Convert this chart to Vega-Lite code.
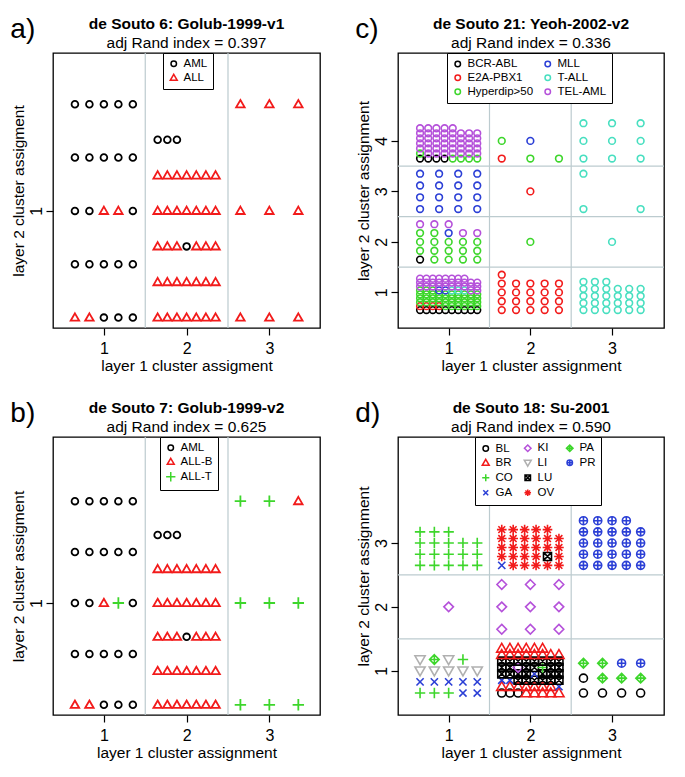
{
"$schema": "https://vega.github.io/schema/vega-lite/v6.json",
"background": "white",
"padding": {"left": 10, "top": 15, "right": 5, "bottom": 5},
"config": {
  "font": "Liberation Sans",
  "view": {"stroke": "black", "strokeWidth": 1.3},
  "axis": {"labelFont": "Liberation Sans", "labelFontSize": 16, "labelColor": "black", "titleFont": "Liberation Sans", "titleFontSize": 15.5, "titleFontWeight": "normal", "titleColor": "black", "tickColor": "black", "tickSize": 7, "tickWidth": 1.2, "domain": false, "grid": false, "labelFlush": false, "labelOverlap": false},
  "axisX": {"labelPadding": 5, "titlePadding": 2},
  "axisY": {"labelAngle": 270, "labelPadding": 2, "titlePadding": 2},
  "legend": {"orient": "none", "strokeColor": "black", "fillColor": "white", "padding": 5, "labelFont": "Liberation Sans", "labelFontSize": 11.5, "labelColor": "black", "symbolSize": 30, "symbolStrokeWidth": 1.5, "rowPadding": 1, "labelOffset": 4, "columnPadding": 8},
  "title": {"font": "Liberation Sans", "fontSize": 15.5, "fontWeight": "bold", "color": "black", "subtitleFont": "Liberation Sans", "subtitleFontSize": 15.5, "subtitleColor": "black", "subtitleFontWeight": "normal", "subtitlePadding": 3, "offset": 1, "anchor": "middle", "frame": "group"}
},
"datasets": {
"golub": [
{"x":0.65,"y":0.6,"a":"ALL","b":"ALL-B"},{"x":0.825,"y":0.6,"a":"ALL","b":"ALL-B"},{"x":1,"y":0.6,"a":"AML","b":"AML"},{"x":1.175,"y":0.6,"a":"AML","b":"AML"},{"x":1.35,"y":0.6,"a":"AML","b":"AML"},
{"x":0.65,"y":0.8,"a":"AML","b":"AML"},{"x":0.825,"y":0.8,"a":"AML","b":"AML"},{"x":1,"y":0.8,"a":"AML","b":"AML"},{"x":1.175,"y":0.8,"a":"AML","b":"AML"},{"x":1.35,"y":0.8,"a":"AML","b":"AML"},
{"x":0.65,"y":1.0,"a":"AML","b":"AML"},{"x":0.825,"y":1.0,"a":"AML","b":"AML"},{"x":1,"y":1.0,"a":"ALL","b":"ALL-B"},{"x":1.175,"y":1.0,"a":"ALL","b":"ALL-T"},{"x":1.35,"y":1.0,"a":"AML","b":"AML"},
{"x":0.65,"y":1.2,"a":"AML","b":"AML"},{"x":0.825,"y":1.2,"a":"AML","b":"AML"},{"x":1,"y":1.2,"a":"AML","b":"AML"},{"x":1.175,"y":1.2,"a":"AML","b":"AML"},{"x":1.35,"y":1.2,"a":"AML","b":"AML"},
{"x":0.65,"y":1.4,"a":"AML","b":"AML"},{"x":0.825,"y":1.4,"a":"AML","b":"AML"},{"x":1,"y":1.4,"a":"AML","b":"AML"},{"x":1.175,"y":1.4,"a":"AML","b":"AML"},{"x":1.35,"y":1.4,"a":"AML","b":"AML"},
{"x":1.65,"y":0.6,"a":"ALL","b":"ALL-B"},{"x":1.767,"y":0.6,"a":"ALL","b":"ALL-B"},{"x":1.883,"y":0.6,"a":"ALL","b":"ALL-B"},{"x":2,"y":0.6,"a":"ALL","b":"ALL-B"},{"x":2.117,"y":0.6,"a":"ALL","b":"ALL-B"},{"x":2.233,"y":0.6,"a":"ALL","b":"ALL-B"},{"x":2.35,"y":0.6,"a":"ALL","b":"ALL-B"},
{"x":1.65,"y":0.733,"a":"ALL","b":"ALL-B"},{"x":1.767,"y":0.733,"a":"ALL","b":"ALL-B"},{"x":1.883,"y":0.733,"a":"ALL","b":"ALL-B"},{"x":2,"y":0.733,"a":"ALL","b":"ALL-B"},{"x":2.117,"y":0.733,"a":"ALL","b":"ALL-B"},{"x":2.233,"y":0.733,"a":"ALL","b":"ALL-B"},{"x":2.35,"y":0.733,"a":"ALL","b":"ALL-B"},
{"x":1.65,"y":0.867,"a":"ALL","b":"ALL-B"},{"x":1.767,"y":0.867,"a":"ALL","b":"ALL-B"},{"x":1.883,"y":0.867,"a":"ALL","b":"ALL-B"},{"x":2,"y":0.867,"a":"AML","b":"AML"},{"x":2.117,"y":0.867,"a":"ALL","b":"ALL-B"},{"x":2.233,"y":0.867,"a":"ALL","b":"ALL-B"},{"x":2.35,"y":0.867,"a":"ALL","b":"ALL-B"},
{"x":1.65,"y":1.0,"a":"ALL","b":"ALL-B"},{"x":1.767,"y":1.0,"a":"ALL","b":"ALL-B"},{"x":1.883,"y":1.0,"a":"ALL","b":"ALL-B"},{"x":2,"y":1.0,"a":"ALL","b":"ALL-B"},{"x":2.117,"y":1.0,"a":"ALL","b":"ALL-B"},{"x":2.233,"y":1.0,"a":"ALL","b":"ALL-B"},{"x":2.35,"y":1.0,"a":"ALL","b":"ALL-B"},
{"x":1.65,"y":1.133,"a":"ALL","b":"ALL-B"},{"x":1.767,"y":1.133,"a":"ALL","b":"ALL-B"},{"x":1.883,"y":1.133,"a":"ALL","b":"ALL-B"},{"x":2,"y":1.133,"a":"ALL","b":"ALL-B"},{"x":2.117,"y":1.133,"a":"ALL","b":"ALL-B"},{"x":2.233,"y":1.133,"a":"ALL","b":"ALL-B"},{"x":2.35,"y":1.133,"a":"ALL","b":"ALL-B"},
{"x":1.65,"y":1.267,"a":"AML","b":"AML"},{"x":1.767,"y":1.267,"a":"AML","b":"AML"},{"x":1.883,"y":1.267,"a":"AML","b":"AML"},
{"x":2.65,"y":0.6,"a":"ALL","b":"ALL-T"},{"x":3,"y":0.6,"a":"ALL","b":"ALL-T"},{"x":3.35,"y":0.6,"a":"ALL","b":"ALL-T"},
{"x":2.65,"y":1.0,"a":"ALL","b":"ALL-T"},{"x":3,"y":1.0,"a":"ALL","b":"ALL-T"},{"x":3.35,"y":1.0,"a":"ALL","b":"ALL-T"},
{"x":2.65,"y":1.4,"a":"ALL","b":"ALL-T"},{"x":3,"y":1.4,"a":"ALL","b":"ALL-T"},{"x":3.35,"y":1.4,"a":"ALL","b":"ALL-B"}
],
"yeoh": [
{"x":0.65,"y":0.65,"g":"BCR-ABL"},{"x":0.728,"y":0.65,"g":"BCR-ABL"},{"x":0.806,"y":0.65,"g":"BCR-ABL"},{"x":0.883,"y":0.65,"g":"BCR-ABL"},{"x":0.961,"y":0.65,"g":"BCR-ABL"},{"x":1.039,"y":0.65,"g":"BCR-ABL"},{"x":1.117,"y":0.65,"g":"BCR-ABL"},{"x":1.194,"y":0.65,"g":"BCR-ABL"},{"x":1.272,"y":0.65,"g":"BCR-ABL"},{"x":1.35,"y":0.65,"g":"BCR-ABL"},
{"x":0.65,"y":0.728,"g":"E2A-PBX1"},{"x":0.728,"y":0.728,"g":"E2A-PBX1"},{"x":0.806,"y":0.728,"g":"E2A-PBX1"},{"x":0.883,"y":0.728,"g":"E2A-PBX1"},{"x":0.961,"y":0.728,"g":"Hyperdip>50"},{"x":1.039,"y":0.728,"g":"Hyperdip>50"},{"x":1.117,"y":0.728,"g":"Hyperdip>50"},{"x":1.194,"y":0.728,"g":"Hyperdip>50"},{"x":1.272,"y":0.728,"g":"Hyperdip>50"},{"x":1.35,"y":0.728,"g":"Hyperdip>50"},
{"x":0.65,"y":0.806,"g":"Hyperdip>50"},{"x":0.728,"y":0.806,"g":"Hyperdip>50"},{"x":0.806,"y":0.806,"g":"Hyperdip>50"},{"x":0.883,"y":0.806,"g":"Hyperdip>50"},{"x":0.961,"y":0.806,"g":"Hyperdip>50"},{"x":1.039,"y":0.806,"g":"Hyperdip>50"},{"x":1.117,"y":0.806,"g":"Hyperdip>50"},{"x":1.194,"y":0.806,"g":"Hyperdip>50"},{"x":1.272,"y":0.806,"g":"Hyperdip>50"},{"x":1.35,"y":0.806,"g":"Hyperdip>50"},
{"x":0.65,"y":0.883,"g":"Hyperdip>50"},{"x":0.728,"y":0.883,"g":"Hyperdip>50"},{"x":0.806,"y":0.883,"g":"Hyperdip>50"},{"x":0.883,"y":0.883,"g":"Hyperdip>50"},{"x":0.961,"y":0.883,"g":"Hyperdip>50"},{"x":1.039,"y":0.883,"g":"Hyperdip>50"},{"x":1.117,"y":0.883,"g":"Hyperdip>50"},{"x":1.194,"y":0.883,"g":"Hyperdip>50"},{"x":1.272,"y":0.883,"g":"Hyperdip>50"},{"x":1.35,"y":0.883,"g":"Hyperdip>50"},
{"x":0.65,"y":0.961,"g":"Hyperdip>50"},{"x":0.728,"y":0.961,"g":"Hyperdip>50"},{"x":0.806,"y":0.961,"g":"Hyperdip>50"},{"x":0.883,"y":0.961,"g":"Hyperdip>50"},{"x":0.961,"y":0.961,"g":"Hyperdip>50"},{"x":1.039,"y":0.961,"g":"Hyperdip>50"},{"x":1.117,"y":0.961,"g":"Hyperdip>50"},{"x":1.194,"y":0.961,"g":"Hyperdip>50"},{"x":1.272,"y":0.961,"g":"Hyperdip>50"},{"x":1.35,"y":0.961,"g":"Hyperdip>50"},
{"x":0.65,"y":1.039,"g":"Hyperdip>50"},{"x":0.728,"y":1.039,"g":"Hyperdip>50"},{"x":0.806,"y":1.039,"g":"Hyperdip>50"},{"x":0.883,"y":1.039,"g":"MLL"},{"x":0.961,"y":1.039,"g":"MLL"},{"x":1.039,"y":1.039,"g":"T-ALL"},{"x":1.117,"y":1.039,"g":"T-ALL"},{"x":1.194,"y":1.039,"g":"T-ALL"},{"x":1.272,"y":1.039,"g":"TEL-AML"},{"x":1.35,"y":1.039,"g":"TEL-AML"},
{"x":0.65,"y":1.117,"g":"TEL-AML"},{"x":0.728,"y":1.117,"g":"TEL-AML"},{"x":0.806,"y":1.117,"g":"TEL-AML"},{"x":0.883,"y":1.117,"g":"TEL-AML"},{"x":0.961,"y":1.117,"g":"TEL-AML"},{"x":1.039,"y":1.117,"g":"TEL-AML"},{"x":1.117,"y":1.117,"g":"TEL-AML"},{"x":1.194,"y":1.117,"g":"TEL-AML"},{"x":1.272,"y":1.117,"g":"TEL-AML"},{"x":1.35,"y":1.117,"g":"TEL-AML"},
{"x":0.65,"y":1.194,"g":"TEL-AML"},{"x":0.728,"y":1.194,"g":"TEL-AML"},{"x":0.806,"y":1.194,"g":"TEL-AML"},{"x":0.883,"y":1.194,"g":"TEL-AML"},{"x":0.961,"y":1.194,"g":"TEL-AML"},{"x":1.039,"y":1.194,"g":"TEL-AML"},{"x":1.117,"y":1.194,"g":"TEL-AML"},{"x":1.194,"y":1.194,"g":"TEL-AML"},{"x":1.272,"y":1.194,"g":"TEL-AML"},{"x":1.35,"y":1.194,"g":"TEL-AML"},
{"x":0.65,"y":1.272,"g":"TEL-AML"},{"x":0.728,"y":1.272,"g":"TEL-AML"},{"x":0.806,"y":1.272,"g":"TEL-AML"},{"x":0.883,"y":1.272,"g":"TEL-AML"},{"x":0.961,"y":1.272,"g":"TEL-AML"},{"x":1.039,"y":1.272,"g":"TEL-AML"},{"x":1.117,"y":1.272,"g":"TEL-AML"},{"x":1.194,"y":1.272,"g":"TEL-AML"},
{"x":0.65,"y":1.65,"g":"BCR-ABL"},{"x":0.825,"y":1.65,"g":"Hyperdip>50"},{"x":1,"y":1.65,"g":"Hyperdip>50"},{"x":1.175,"y":1.65,"g":"Hyperdip>50"},{"x":1.35,"y":1.65,"g":"Hyperdip>50"},
{"x":0.65,"y":1.825,"g":"Hyperdip>50"},{"x":0.825,"y":1.825,"g":"Hyperdip>50"},{"x":1,"y":1.825,"g":"Hyperdip>50"},{"x":1.175,"y":1.825,"g":"Hyperdip>50"},{"x":1.35,"y":1.825,"g":"Hyperdip>50"},
{"x":0.65,"y":2.0,"g":"Hyperdip>50"},{"x":0.825,"y":2.0,"g":"Hyperdip>50"},{"x":1,"y":2.0,"g":"Hyperdip>50"},{"x":1.175,"y":2.0,"g":"Hyperdip>50"},{"x":1.35,"y":2.0,"g":"Hyperdip>50"},
{"x":0.65,"y":2.175,"g":"Hyperdip>50"},{"x":0.825,"y":2.175,"g":"Hyperdip>50"},{"x":1,"y":2.175,"g":"MLL"},{"x":1.175,"y":2.175,"g":"TEL-AML"},{"x":1.35,"y":2.175,"g":"TEL-AML"},
{"x":0.65,"y":2.35,"g":"TEL-AML"},{"x":0.825,"y":2.35,"g":"TEL-AML"},{"x":1,"y":2.35,"g":"TEL-AML"},
{"x":0.65,"y":2.65,"g":"MLL"},{"x":0.883,"y":2.65,"g":"MLL"},{"x":1.117,"y":2.65,"g":"MLL"},{"x":1.35,"y":2.65,"g":"MLL"},
{"x":0.65,"y":2.883,"g":"MLL"},{"x":0.883,"y":2.883,"g":"MLL"},{"x":1.117,"y":2.883,"g":"MLL"},{"x":1.35,"y":2.883,"g":"MLL"},
{"x":0.65,"y":3.117,"g":"MLL"},{"x":0.883,"y":3.117,"g":"MLL"},{"x":1.117,"y":3.117,"g":"MLL"},{"x":1.35,"y":3.117,"g":"MLL"},
{"x":0.65,"y":3.35,"g":"MLL"},{"x":0.883,"y":3.35,"g":"MLL"},{"x":1.117,"y":3.35,"g":"MLL"},{"x":1.35,"y":3.35,"g":"MLL"},
{"x":0.65,"y":3.65,"g":"BCR-ABL"},{"x":0.75,"y":3.65,"g":"BCR-ABL"},{"x":0.85,"y":3.65,"g":"BCR-ABL"},{"x":0.95,"y":3.65,"g":"BCR-ABL"},{"x":1.05,"y":3.65,"g":"Hyperdip>50"},{"x":1.15,"y":3.65,"g":"Hyperdip>50"},{"x":1.25,"y":3.65,"g":"Hyperdip>50"},{"x":1.35,"y":3.65,"g":"Hyperdip>50"},
{"x":0.65,"y":3.75,"g":"Hyperdip>50"},{"x":0.75,"y":3.75,"g":"TEL-AML"},{"x":0.85,"y":3.75,"g":"TEL-AML"},{"x":0.95,"y":3.75,"g":"TEL-AML"},{"x":1.05,"y":3.75,"g":"TEL-AML"},{"x":1.15,"y":3.75,"g":"TEL-AML"},{"x":1.25,"y":3.75,"g":"TEL-AML"},{"x":1.35,"y":3.75,"g":"TEL-AML"},
{"x":0.65,"y":3.85,"g":"TEL-AML"},{"x":0.75,"y":3.85,"g":"TEL-AML"},{"x":0.85,"y":3.85,"g":"TEL-AML"},{"x":0.95,"y":3.85,"g":"TEL-AML"},{"x":1.05,"y":3.85,"g":"TEL-AML"},{"x":1.15,"y":3.85,"g":"TEL-AML"},{"x":1.25,"y":3.85,"g":"TEL-AML"},{"x":1.35,"y":3.85,"g":"TEL-AML"},
{"x":0.65,"y":3.95,"g":"TEL-AML"},{"x":0.75,"y":3.95,"g":"TEL-AML"},{"x":0.85,"y":3.95,"g":"TEL-AML"},{"x":0.95,"y":3.95,"g":"TEL-AML"},{"x":1.05,"y":3.95,"g":"TEL-AML"},{"x":1.15,"y":3.95,"g":"TEL-AML"},{"x":1.25,"y":3.95,"g":"TEL-AML"},{"x":1.35,"y":3.95,"g":"TEL-AML"},
{"x":0.65,"y":4.05,"g":"TEL-AML"},{"x":0.75,"y":4.05,"g":"TEL-AML"},{"x":0.85,"y":4.05,"g":"TEL-AML"},{"x":0.95,"y":4.05,"g":"TEL-AML"},{"x":1.05,"y":4.05,"g":"TEL-AML"},{"x":1.15,"y":4.05,"g":"TEL-AML"},{"x":1.25,"y":4.05,"g":"TEL-AML"},{"x":1.35,"y":4.05,"g":"TEL-AML"},
{"x":0.65,"y":4.15,"g":"TEL-AML"},{"x":0.75,"y":4.15,"g":"TEL-AML"},{"x":0.85,"y":4.15,"g":"TEL-AML"},{"x":0.95,"y":4.15,"g":"TEL-AML"},{"x":1.05,"y":4.15,"g":"TEL-AML"},{"x":1.15,"y":4.15,"g":"TEL-AML"},{"x":1.25,"y":4.15,"g":"TEL-AML"},{"x":1.35,"y":4.15,"g":"TEL-AML"},
{"x":0.65,"y":4.25,"g":"TEL-AML"},{"x":0.75,"y":4.25,"g":"TEL-AML"},{"x":0.85,"y":4.25,"g":"TEL-AML"},{"x":0.95,"y":4.25,"g":"TEL-AML"},{"x":1.05,"y":4.25,"g":"TEL-AML"},
{"x":1.65,"y":0.65,"g":"E2A-PBX1"},{"x":1.825,"y":0.65,"g":"E2A-PBX1"},{"x":2,"y":0.65,"g":"E2A-PBX1"},{"x":2.175,"y":0.65,"g":"E2A-PBX1"},{"x":2.35,"y":0.65,"g":"E2A-PBX1"},
{"x":1.65,"y":0.825,"g":"E2A-PBX1"},{"x":1.825,"y":0.825,"g":"E2A-PBX1"},{"x":2,"y":0.825,"g":"E2A-PBX1"},{"x":2.175,"y":0.825,"g":"E2A-PBX1"},{"x":2.35,"y":0.825,"g":"E2A-PBX1"},
{"x":1.65,"y":1.0,"g":"E2A-PBX1"},{"x":1.825,"y":1.0,"g":"E2A-PBX1"},{"x":2,"y":1.0,"g":"E2A-PBX1"},{"x":2.175,"y":1.0,"g":"E2A-PBX1"},{"x":2.35,"y":1.0,"g":"E2A-PBX1"},
{"x":1.65,"y":1.175,"g":"E2A-PBX1"},{"x":1.825,"y":1.175,"g":"E2A-PBX1"},{"x":2,"y":1.175,"g":"E2A-PBX1"},{"x":2.175,"y":1.175,"g":"E2A-PBX1"},{"x":2.35,"y":1.175,"g":"E2A-PBX1"},
{"x":1.65,"y":1.35,"g":"E2A-PBX1"},
{"x":2,"y":2,"g":"Hyperdip>50"},
{"x":2,"y":3,"g":"E2A-PBX1"},
{"x":1.65,"y":3.65,"g":"E2A-PBX1"},{"x":2,"y":3.65,"g":"Hyperdip>50"},{"x":2.35,"y":3.65,"g":"Hyperdip>50"},{"x":1.65,"y":4,"g":"Hyperdip>50"},{"x":2,"y":4,"g":"MLL"},
{"x":2.65,"y":0.65,"g":"T-ALL"},{"x":2.79,"y":0.65,"g":"T-ALL"},{"x":2.93,"y":0.65,"g":"T-ALL"},{"x":3.07,"y":0.65,"g":"T-ALL"},{"x":3.21,"y":0.65,"g":"T-ALL"},{"x":3.35,"y":0.65,"g":"T-ALL"},
{"x":2.65,"y":0.79,"g":"T-ALL"},{"x":2.79,"y":0.79,"g":"T-ALL"},{"x":2.93,"y":0.79,"g":"T-ALL"},{"x":3.07,"y":0.79,"g":"T-ALL"},{"x":3.21,"y":0.79,"g":"T-ALL"},{"x":3.35,"y":0.79,"g":"T-ALL"},
{"x":2.65,"y":0.93,"g":"T-ALL"},{"x":2.79,"y":0.93,"g":"T-ALL"},{"x":2.93,"y":0.93,"g":"T-ALL"},{"x":3.07,"y":0.93,"g":"T-ALL"},{"x":3.21,"y":0.93,"g":"T-ALL"},{"x":3.35,"y":0.93,"g":"T-ALL"},
{"x":2.65,"y":1.07,"g":"T-ALL"},{"x":2.79,"y":1.07,"g":"T-ALL"},{"x":2.93,"y":1.07,"g":"T-ALL"},{"x":3.07,"y":1.07,"g":"T-ALL"},{"x":3.21,"y":1.07,"g":"T-ALL"},{"x":3.35,"y":1.07,"g":"T-ALL"},
{"x":2.65,"y":1.21,"g":"T-ALL"},{"x":2.79,"y":1.21,"g":"T-ALL"},{"x":2.93,"y":1.21,"g":"T-ALL"},
{"x":3,"y":2,"g":"T-ALL"},
{"x":2.65,"y":2.65,"g":"T-ALL"},{"x":3.35,"y":2.65,"g":"T-ALL"},{"x":2.65,"y":3.35,"g":"T-ALL"},
{"x":2.65,"y":3.65,"g":"T-ALL"},{"x":3,"y":3.65,"g":"T-ALL"},{"x":3.35,"y":3.65,"g":"T-ALL"},
{"x":2.65,"y":4,"g":"T-ALL"},{"x":3,"y":4,"g":"T-ALL"},{"x":3.35,"y":4,"g":"T-ALL"},
{"x":2.65,"y":4.35,"g":"T-ALL"},{"x":3,"y":4.35,"g":"T-ALL"},{"x":3.35,"y":4.35,"g":"T-ALL"}
],
"su": [
{"x":0.65,"y":0.65,"g":"CO"},{"x":0.825,"y":0.65,"g":"CO"},{"x":1,"y":0.65,"g":"CO"},{"x":1.175,"y":0.65,"g":"GA"},{"x":1.35,"y":0.65,"g":"GA"},
{"x":0.65,"y":0.825,"g":"GA"},{"x":0.825,"y":0.825,"g":"GA"},{"x":1,"y":0.825,"g":"GA"},{"x":1.175,"y":0.825,"g":"GA"},{"x":1.35,"y":0.825,"g":"GA"},
{"x":0.65,"y":1.0,"g":"LI"},{"x":0.825,"y":1.0,"g":"LI"},{"x":1,"y":1.0,"g":"LI"},{"x":1.175,"y":1.0,"g":"LI"},{"x":1.35,"y":1.0,"g":"LI"},
{"x":0.65,"y":1.175,"g":"LI"},{"x":0.825,"y":1.175,"g":"PA"},{"x":1,"y":1.175,"g":"LI"},{"x":1.175,"y":1.175,"g":"CO"},
{"x":1,"y":2,"g":"KI"},
{"x":0.65,"y":2.65,"g":"CO"},{"x":0.825,"y":2.65,"g":"CO"},{"x":1,"y":2.65,"g":"CO"},{"x":1.175,"y":2.65,"g":"CO"},{"x":1.35,"y":2.65,"g":"CO"},
{"x":0.65,"y":2.825,"g":"CO"},{"x":0.825,"y":2.825,"g":"CO"},{"x":1,"y":2.825,"g":"CO"},{"x":1.175,"y":2.825,"g":"CO"},{"x":1.35,"y":2.825,"g":"CO"},
{"x":0.65,"y":3.0,"g":"CO"},{"x":0.825,"y":3.0,"g":"CO"},{"x":1,"y":3.0,"g":"CO"},{"x":1.175,"y":3.0,"g":"CO"},{"x":1.35,"y":3.0,"g":"CO"},
{"x":0.65,"y":3.175,"g":"CO"},{"x":0.825,"y":3.175,"g":"CO"},{"x":1,"y":3.175,"g":"CO"},
{"x":1.65,"y":0.65,"g":"BL"},{"x":1.75,"y":0.65,"g":"BL"},{"x":1.85,"y":0.65,"g":"BL"},{"x":1.95,"y":0.65,"g":"BR"},{"x":2.05,"y":0.65,"g":"BR"},{"x":2.15,"y":0.65,"g":"BR"},{"x":2.25,"y":0.65,"g":"BR"},{"x":2.35,"y":0.65,"g":"BR"},
{"x":1.65,"y":0.75,"g":"BR"},{"x":1.75,"y":0.75,"g":"BR"},{"x":1.85,"y":0.75,"g":"BR"},{"x":1.95,"y":0.75,"g":"BR"},{"x":2.05,"y":0.75,"g":"BR"},{"x":2.15,"y":0.75,"g":"BR"},{"x":2.25,"y":0.75,"g":"BR"},{"x":2.35,"y":0.75,"g":"GA"},
{"x":1.65,"y":0.85,"g":"GA"},{"x":1.75,"y":0.85,"g":"GA"},{"x":1.85,"y":0.85,"g":"LU"},{"x":1.95,"y":0.85,"g":"LU"},{"x":2.05,"y":0.85,"g":"LU"},{"x":2.15,"y":0.85,"g":"LU"},{"x":2.25,"y":0.85,"g":"LU"},{"x":2.35,"y":0.85,"g":"LU"},
{"x":1.65,"y":0.95,"g":"LU"},{"x":1.75,"y":0.95,"g":"LU"},{"x":1.85,"y":0.95,"g":"LU"},{"x":1.95,"y":0.95,"g":"LU"},{"x":2.05,"y":0.95,"g":"GA"},{"x":2.15,"y":0.95,"g":"LU"},{"x":2.25,"y":0.95,"g":"LU"},{"x":2.35,"y":0.95,"g":"LU"},
{"x":1.65,"y":1.05,"g":"LU"},{"x":1.75,"y":1.05,"g":"LU"},{"x":1.85,"y":1.05,"g":"KI"},{"x":1.95,"y":1.05,"g":"LU"},{"x":2.05,"y":1.05,"g":"LU"},{"x":2.15,"y":1.05,"g":"CO"},{"x":2.25,"y":1.05,"g":"LU"},{"x":2.35,"y":1.05,"g":"LU"},
{"x":1.65,"y":1.15,"g":"LU"},{"x":1.75,"y":1.15,"g":"LU"},{"x":1.85,"y":1.15,"g":"LU"},{"x":1.95,"y":1.15,"g":"LU"},{"x":2.05,"y":1.15,"g":"LU"},{"x":2.15,"y":1.15,"g":"LU"},{"x":2.25,"y":1.15,"g":"LU"},{"x":2.35,"y":1.15,"g":"LU"},
{"x":1.65,"y":1.25,"g":"BR"},{"x":1.75,"y":1.25,"g":"BR"},{"x":1.85,"y":1.25,"g":"BR"},{"x":1.95,"y":1.25,"g":"BR"},{"x":2.05,"y":1.25,"g":"BR"},{"x":2.15,"y":1.25,"g":"BR"},{"x":2.25,"y":1.25,"g":"BR"},{"x":2.35,"y":1.25,"g":"BR"},
{"x":1.65,"y":1.35,"g":"BR"},{"x":1.75,"y":1.35,"g":"BR"},{"x":1.85,"y":1.35,"g":"BR"},{"x":1.95,"y":1.35,"g":"BR"},{"x":2.05,"y":1.35,"g":"BR"},{"x":2.15,"y":1.35,"g":"BR"},
{"x":1.65,"y":1.65,"g":"KI"},{"x":2,"y":1.65,"g":"KI"},{"x":2.35,"y":1.65,"g":"KI"},
{"x":1.65,"y":2,"g":"KI"},{"x":2,"y":2,"g":"KI"},{"x":2.35,"y":2,"g":"KI"},
{"x":1.65,"y":2.35,"g":"KI"},{"x":2,"y":2.35,"g":"KI"},{"x":2.35,"y":2.35,"g":"KI"},
{"x":1.65,"y":2.65,"g":"GA"},{"x":1.79,"y":2.65,"g":"OV"},{"x":1.93,"y":2.65,"g":"OV"},{"x":2.07,"y":2.65,"g":"OV"},{"x":2.21,"y":2.65,"g":"OV"},{"x":2.35,"y":2.65,"g":"OV"},
{"x":1.65,"y":2.79,"g":"OV"},{"x":1.79,"y":2.79,"g":"OV"},{"x":1.93,"y":2.79,"g":"OV"},{"x":2.07,"y":2.79,"g":"OV"},{"x":2.21,"y":2.79,"g":"LU"},{"x":2.35,"y":2.79,"g":"OV"},
{"x":1.65,"y":2.93,"g":"OV"},{"x":1.79,"y":2.93,"g":"OV"},{"x":1.93,"y":2.93,"g":"OV"},{"x":2.07,"y":2.93,"g":"OV"},{"x":2.21,"y":2.93,"g":"OV"},{"x":2.35,"y":2.93,"g":"OV"},
{"x":1.65,"y":3.07,"g":"OV"},{"x":1.79,"y":3.07,"g":"OV"},{"x":1.93,"y":3.07,"g":"OV"},{"x":2.07,"y":3.07,"g":"OV"},{"x":2.21,"y":3.07,"g":"OV"},{"x":2.35,"y":3.07,"g":"OV"},
{"x":1.65,"y":3.21,"g":"OV"},{"x":1.79,"y":3.21,"g":"OV"},{"x":1.93,"y":3.21,"g":"OV"},{"x":2.07,"y":3.21,"g":"OV"},{"x":2.21,"y":3.21,"g":"OV"},
{"x":2.65,"y":0.65,"g":"BL"},{"x":2.883,"y":0.65,"g":"BL"},{"x":3.117,"y":0.65,"g":"BL"},{"x":3.35,"y":0.65,"g":"BL"},
{"x":2.65,"y":0.883,"g":"BL"},{"x":2.883,"y":0.883,"g":"PA"},{"x":3.117,"y":0.883,"g":"PA"},{"x":3.35,"y":0.883,"g":"PA"},
{"x":2.65,"y":1.117,"g":"PA"},{"x":2.883,"y":1.117,"g":"PA"},{"x":3.117,"y":1.117,"g":"PR"},{"x":3.35,"y":1.117,"g":"PR"},
{"x":2.65,"y":2.65,"g":"PR"},{"x":2.825,"y":2.65,"g":"PR"},{"x":3,"y":2.65,"g":"PR"},{"x":3.175,"y":2.65,"g":"PR"},{"x":3.35,"y":2.65,"g":"PR"},
{"x":2.65,"y":2.825,"g":"PR"},{"x":2.825,"y":2.825,"g":"PR"},{"x":3,"y":2.825,"g":"PR"},{"x":3.175,"y":2.825,"g":"PR"},{"x":3.35,"y":2.825,"g":"PR"},
{"x":2.65,"y":3.0,"g":"PR"},{"x":2.825,"y":3.0,"g":"PR"},{"x":3,"y":3.0,"g":"PR"},{"x":3.175,"y":3.0,"g":"PR"},{"x":3.35,"y":3.0,"g":"PR"},
{"x":2.65,"y":3.175,"g":"PR"},{"x":2.825,"y":3.175,"g":"PR"},{"x":3,"y":3.175,"g":"PR"},{"x":3.175,"y":3.175,"g":"PR"},{"x":3.35,"y":3.175,"g":"PR"},
{"x":2.65,"y":3.35,"g":"PR"},{"x":2.825,"y":3.35,"g":"PR"},{"x":3,"y":3.35,"g":"PR"},{"x":3.175,"y":3.35,"g":"PR"}
]
},
"columns": 2,
"spacing": {"column": 34, "row": 24},
"resolve": {"scale": {"color": "independent", "shape": "independent"}, "legend": {"color": "independent", "shape": "independent"}},
"concat": [
{
 "title": {"text": "a)", "anchor": "start", "frame": "bounds", "fontSize": 28, "fontWeight": "normal", "offset": -27},
 "resolve": {"scale": {"color": "independent", "shape": "independent"}, "legend": {"color": "independent", "shape": "independent"}},
 "vconcat": [{
  "width": 267, "height": 275,
  "title": {"text": "de Souto 6: Golub-1999-v1", "subtitle": "adj Rand index = 0.397"},
  "layer": [
   {"data": {"values": [{"v": 1.5}, {"v": 2.5}]},
    "mark": {"type": "rule", "color": "#BCCBCF", "strokeWidth": 1.2},
    "encoding": {"x": {"field": "v", "type": "quantitative", "scale": {"domain": [0.385, 3.612], "nice": false, "zero": false}, "title": "layer 1 cluster assigment"}}},
   {"data": {"name": "golub"},
    "mark": {"type": "point", "filled": false, "size": 45, "strokeWidth": 1.8, "opacity": 1},
    "encoding": {
     "x": {"field": "x", "type": "quantitative", "scale": {"domain": [0.385, 3.612], "nice": false, "zero": false}, "axis": {"values": [1, 2, 3], "format": "d"}, "title": "layer 1 cluster assigment"},
     "y": {"field": "y", "type": "quantitative", "scale": {"domain": [0.561, 1.592], "nice": false, "zero": false}, "axis": {"values": [1], "format": "d"}, "title": "layer 2 cluster assigment"},
     "color": {"field": "a", "type": "nominal", "title": null, "scale": {"domain": ["AML", "ALL"], "range": ["#000000", "#F21B1B"]}, "legend": {"legendX": 110, "legendY": 0}},
     "shape": {"field": "a", "type": "nominal", "title": null, "scale": {"domain": ["AML", "ALL"], "range": ["circle", "M0,-1.27L1.27,0.93L-1.27,0.93Z"]}, "legend": {"legendX": 110, "legendY": 0}}
    }}
  ]
 }]
},
{
 "title": {"text": "c)", "anchor": "start", "frame": "bounds", "fontSize": 28, "fontWeight": "normal", "offset": -27},
 "resolve": {"scale": {"color": "independent", "shape": "independent"}, "legend": {"color": "independent", "shape": "independent"}},
 "vconcat": [{
  "width": 266, "height": 275,
  "title": {"text": "de Souto 21: Yeoh-2002-v2", "subtitle": "adj Rand index = 0.336"},
  "layer": [
   {"data": {"values": [{"v": 1.5}, {"v": 2.5}]},
    "mark": {"type": "rule", "color": "#BCCBCF", "strokeWidth": 1.2},
    "encoding": {"x": {"field": "v", "type": "quantitative", "scale": {"domain": [0.38, 3.636], "nice": false, "zero": false}, "title": "layer 1 cluster assignment"}}},
   {"data": {"values": [{"h": 1.5}, {"h": 2.5}, {"h": 3.5}]},
    "mark": {"type": "rule", "color": "#BCCBCF", "strokeWidth": 1.2},
    "encoding": {"y": {"field": "h", "type": "quantitative", "scale": {"domain": [0.295, 5.74], "nice": false, "zero": false}, "title": "layer 2 cluster assignment"}}},
   {"data": {"name": "yeoh"},
    "mark": {"type": "point", "filled": false, "shape": "circle", "size": 45, "strokeWidth": 1.6, "opacity": 1},
    "encoding": {
     "x": {"field": "x", "type": "quantitative", "scale": {"domain": [0.38, 3.636], "nice": false, "zero": false}, "axis": {"values": [1, 2, 3], "format": "d"}, "title": "layer 1 cluster assignment"},
     "y": {"field": "y", "type": "quantitative", "scale": {"domain": [0.295, 5.74], "nice": false, "zero": false}, "axis": {"values": [1, 2, 3, 4], "format": "d"}, "title": "layer 2 cluster assignment"},
     "color": {"field": "g", "type": "nominal", "title": null, "scale": {"domain": ["BCR-ABL", "E2A-PBX1", "Hyperdip>50", "MLL", "T-ALL", "TEL-AML"], "range": ["#000000", "#F21B1B", "#3DD62B", "#2B3FD6", "#48DFC0", "#B551DA"]}, "legend": {"legendX": 49, "legendY": 0, "columns": 2, "symbolType": "circle"}}
    }}
  ]
 }]
},
{
 "title": {"text": "b)", "anchor": "start", "frame": "bounds", "fontSize": 28, "fontWeight": "normal", "offset": -27},
 "resolve": {"scale": {"color": "independent", "shape": "independent"}, "legend": {"color": "independent", "shape": "independent"}},
 "vconcat": [{
  "width": 267, "height": 278,
  "title": {"text": "de Souto 7: Golub-1999-v2", "subtitle": "adj Rand index = 0.625"},
  "layer": [
   {"data": {"values": [{"v": 1.5}, {"v": 2.5}]},
    "mark": {"type": "rule", "color": "#BCCBCF", "strokeWidth": 1.2},
    "encoding": {"x": {"field": "v", "type": "quantitative", "scale": {"domain": [0.385, 3.612], "nice": false, "zero": false}, "title": "layer 1 cluster assignment"}}},
   {"data": {"name": "golub"},
    "mark": {"type": "point", "filled": false, "size": 45, "strokeWidth": 1.8, "opacity": 1},
    "encoding": {
     "x": {"field": "x", "type": "quantitative", "scale": {"domain": [0.385, 3.612], "nice": false, "zero": false}, "axis": {"values": [1, 2, 3], "format": "d"}, "title": "layer 1 cluster assignment"},
     "y": {"field": "y", "type": "quantitative", "scale": {"domain": [0.56, 1.652], "nice": false, "zero": false}, "axis": {"values": [1], "format": "d"}, "title": "layer 2 cluster assigment"},
     "color": {"field": "b", "type": "nominal", "title": null, "scale": {"domain": ["AML", "ALL-B", "ALL-T"], "range": ["#000000", "#F21B1B", "#3DD62B"]}, "legend": {"legendX": 107, "legendY": 0}},
     "shape": {"field": "b", "type": "nominal", "title": null, "scale": {"domain": ["AML", "ALL-B", "ALL-T"], "range": ["circle", "M0,-1.27L1.27,0.93L-1.27,0.93Z", "M-1.7,0L1.7,0M0,-1.7L0,1.7"]}, "legend": {"legendX": 107, "legendY": 0}}
    }}
  ]
 }]
},
{
 "title": {"text": "d)", "anchor": "start", "frame": "bounds", "fontSize": 28, "fontWeight": "normal", "offset": -27},
 "resolve": {"scale": {"color": "independent", "shape": "independent"}, "legend": {"color": "independent", "shape": "independent"}},
 "vconcat": [{
  "width": 266, "height": 278,
  "title": {"text": "de Souto 18: Su-2001", "subtitle": "adj Rand index = 0.590"},
  "layer": [
   {"data": {"values": [{"v": 1.5}, {"v": 2.5}]},
    "mark": {"type": "rule", "color": "#BCCBCF", "strokeWidth": 1.2},
    "encoding": {"x": {"field": "v", "type": "quantitative", "scale": {"domain": [0.38, 3.636], "nice": false, "zero": false}, "title": "layer 1 cluster assignment"}}},
   {"data": {"values": [{"h": 1.5}, {"h": 2.5}]},
    "mark": {"type": "rule", "color": "#BCCBCF", "strokeWidth": 1.2},
    "encoding": {"y": {"field": "h", "type": "quantitative", "scale": {"domain": [0.306, 4.661], "nice": false, "zero": false}, "title": "layer 2 cluster assignment"}}},
   {"data": {"name": "su"},
    "mark": {"type": "point", "filled": false, "size": 64, "strokeWidth": 1.6, "opacity": 1},
    "encoding": {
     "x": {"field": "x", "type": "quantitative", "scale": {"domain": [0.38, 3.636], "nice": false, "zero": false}, "axis": {"values": [1, 2, 3], "format": "d"}, "title": "layer 1 cluster assignment"},
     "y": {"field": "y", "type": "quantitative", "scale": {"domain": [0.306, 4.661], "nice": false, "zero": false}, "axis": {"values": [1, 2, 3], "format": "d"}, "title": "layer 2 cluster assignment"},
     "color": {"field": "g", "type": "nominal", "title": null, "scale": {"domain": ["BL", "BR", "CO", "GA", "KI", "LI", "LU", "OV", "PA", "PR", " "], "range": ["#000000", "#F21B1B", "#3DD62B", "#2B3FD6", "#B551DA", "#B0B0B0", "#000000", "#F21B1B", "#3DD62B", "#2B3FD6", "rgba(0,0,0,0)"]}, "legend": {"legendX": 77, "legendY": 0, "columns": 3}},
     "shape": {"field": "g", "type": "nominal", "title": null, "scale": {"domain": ["BL", "BR", "CO", "GA", "KI", "LI", "LU", "OV", "PA", "PR", " "], "range": ["circle", "M0,-1.27L1.27,0.93L-1.27,0.93Z", "M-1.3,0L1.3,0M0,-1.3L0,1.3", "M-0.9,-0.9L0.9,0.9M-0.9,0.9L0.9,-0.9", "M0,-1.2L1.2,0L0,1.2L-1.2,0Z", "M0,1.27L1.27,-0.93L-1.27,-0.93Z", "M-1,-1L1,-1L1,1L-1,1ZM-1,-1L1,1M-1,1L1,-1", "M-1.2,0L1.2,0M0,-1.2L0,1.2M-0.85,-0.85L0.85,0.85M-0.85,0.85L0.85,-0.85", "M0,-1.2L1.2,0L0,1.2L-1.2,0ZM-1.2,0L1.2,0M0,-1.2L0,1.2", "M-1,0A1,1,0,1,0,1,0A1,1,0,1,0,-1,0ZM-1,0L1,0M0,-1L0,1", "circle"]}, "legend": {"legendX": 77, "legendY": 0, "columns": 3}}
    }}
  ]
 }]
}
]
}
